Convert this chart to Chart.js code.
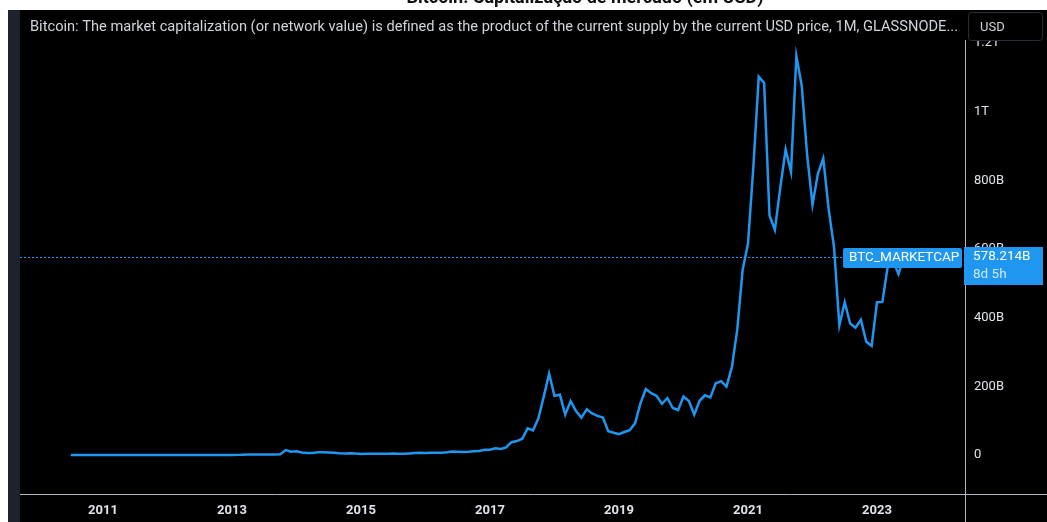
<!DOCTYPE html>
<html><head><meta charset="utf-8">
<script src="https://cdn.jsdelivr.net/npm/chart.js@4.4.0/dist/chart.umd.min.js"></script>
<style>html,body{margin:0;padding:0;background:#fff;overflow:hidden}
#wrap{position:relative;width:1047px;height:522px}
canvas{display:block}
</style></head><body>
<div id="wrap"><canvas id="c" width="1047" height="522"></canvas></div>
<script>
// ---- DATA ----
const startYear = 2010;
const startMonth = 7; // first monthly bar: July 2010
// Bitcoin market cap, monthly close, in billions USD (Jul 2010 .. Jun 2023)
const marketCapB = [
  0.0003,0.0003,0.0003,0.0008,0.0010,0.0015,
  0.0028,0.0047,0.0045,0.021,0.055,0.106,0.091,0.057,0.037,0.024,0.023,0.037,
  0.045,0.041,0.042,0.043,0.046,0.061,0.087,0.098,0.122,0.112,0.13,0.143,
  0.219,0.364,1.02,1.54,1.44,1.10,1.22,1.57,1.56,2.41,14.5,9.74,
  10.6,7.05,5.7,5.6,8.0,8.3,7.6,6.3,5.1,4.5,5.1,4.35,
  3.0,3.5,3.4,3.3,3.3,3.8,4.1,3.4,3.5,4.6,5.6,6.45,
  5.6,6.6,6.4,6.9,8.2,10.5,9.8,9.1,9.7,11.2,11.9,15.5,
  15.5,19.3,17.4,22.0,37.4,40.7,47.3,77.6,71.7,107,170,237,
  172,176,118,157,128,109,133,121,114,109,69.5,65,
  60.4,67,72,93,151,192,180,172,149,166,137,131,
  170,157,118,158,174,168,209,215,199,256,365,539,
  616,840,1102,1084,698,656,778,890,825,1162,1075,874,
  729,819,864,717,606,378,445,383,371,394,330,318,
  445,446,550,565,527,578.214
];
const yTickValues = [0,200,400,600,800,1000,1200];
const yTickLabels = ['0','200B','400B','600B','800B','1T','1.2T'];
const xTickYears = [2011,2013,2015,2017,2019,2021,2023];
const seriesName = 'BTC_MARKETCAP';
const lastValue = 578.214;
const lastValueLabel = '578.214B';
const countdownLabel = '8d 5h';
const headerText = 'Bitcoin: The market capitalization (or network value) is defined as the product of the current supply by the current USD price, 1M, GLASSNODE...';
const currencyText = 'USD';
const topTitle = 'Bitcoin: Capitalização de mercado (em USD)';

// ---- BUILD ----
// month index relative to Jan 2011
const points = marketCapB.map((v,i)=>{
  const k = (startYear-2011)*12 + (startMonth-1) + i;
  return {x:k, y:v};
});

const BLUE = '#1f96f0';
const AXIS = '#b2b5be';
const TXT = '#d1d4dc';

// target geometry
const X0_PX = 103, PX_PER_MONTH = 5.375;   // Jan 2011 at x=103
const Y0_PX = 455, PX_PER_B = 68.65/200;    // 0 at y=455

const decor = {
  id:'decor',
  beforeDraw(chart){
    const c = chart.ctx;
    c.save();
    c.fillStyle = '#ffffff'; c.fillRect(0,0,1047,522);
    c.fillStyle = '#1e222d'; c.fillRect(8,10,1039,512);
    c.fillStyle = '#000000'; c.fillRect(20,10,1027,512);
    c.restore();
  },
  afterDatasetsDraw(chart){
    const c = chart.ctx;
    const ys = chart.scales.y;
    const py = Math.round(ys.getPixelForValue(lastValue)) + 0.5;
    c.save();
    c.strokeStyle = '#2a9df4'; c.lineWidth = 1; c.setLineDash([2,2]);
    c.beginPath(); c.moveTo(20,py); c.lineTo(845,py); c.stroke();
    c.setLineDash([]);
    c.strokeStyle = AXIS; c.lineWidth = 1;
    c.beginPath(); c.moveTo(20,494.5); c.lineTo(1047,494.5); c.stroke();
    c.beginPath(); c.moveTo(965.5,10); c.lineTo(965.5,522); c.stroke();
    c.restore();
  },
  afterDraw(chart){
    const c = chart.ctx;
    const ys = chart.scales.y;
    const py = Math.round(ys.getPixelForValue(lastValue));
    c.save();
    // header bar (covers top of plot incl. 1.2T label)
    c.fillStyle = '#000000'; c.fillRect(20,10,1027,30);
    c.fillStyle = '#1e222d'; c.fillRect(8,10,12,30);
    c.font = '14px "Liberation Sans Narrow", "Roboto", sans-serif';
    c.fillStyle = TXT; c.textBaseline = 'middle'; c.textAlign = 'left';
    const w = c.measureText(headerText).width;
    const target = 928;
    c.save(); c.translate(30,27); c.scale(target/w,1); c.fillText(headerText,0,0); c.restore();
    // currency box
    c.fillStyle = '#000000';
    c.strokeStyle = '#2a2e39'; c.lineWidth = 1;
    c.beginPath(); c.roundRect(968.5,12.5,74,28,3); c.fill(); c.stroke();
    c.fillStyle = TXT; c.font = '13px "Roboto", sans-serif';
    c.fillText(currencyText,980,28);
    // series label
    c.fillStyle = BLUE;
    c.beginPath(); c.roundRect(843,py-9,119,20,2); c.fill();
    c.fillStyle = '#ffffff'; c.font = '13.5px "Roboto", sans-serif';
    c.fillText(seriesName,849,py+1);
    // price label
    c.fillStyle = BLUE;
    c.fillRect(964,py-10,79,38);
    c.fillStyle = '#ffffff';
    c.fillText(lastValueLabel,973,py);
    c.fillStyle = '#cfe8fc';
    c.fillText(countdownLabel,973,py+18);
    // clipped top title
    c.fillStyle = '#ffffff'; c.fillRect(0,0,1047,10);
    c.save(); c.beginPath(); c.rect(0,0,1047,9); c.clip();
    c.textAlign = 'center'; c.textBaseline='alphabetic';
    c.font = 'bold 18px "Roboto", sans-serif';
    c.fillStyle = '#111'; c.fillText(topTitle,585,3);
    c.restore();
    c.restore();
  }
};

const chart = new Chart(document.getElementById('c'),{
  type:'line',
  data:{datasets:[{label:seriesName,data:points,borderColor:BLUE,borderWidth:2.5,
    pointRadius:0,tension:0,fill:false}]},
  options:{
    responsive:false,animation:false,
    layout:{padding:{left:20,top:10,right:0,bottom:0}},
    plugins:{legend:{display:false},tooltip:{enabled:false}},
    scales:{
      x:{type:'linear',min:-15,max:160,
        grid:{display:false,drawTicks:false},border:{display:false},
        afterBuildTicks(s){s.ticks = xTickYears.map(y=>({value:(y-2011)*12}));},
        afterFit(s){s.height = 28;},
        ticks:{autoSkip:false,maxRotation:0,padding:9,color:'#e0e3eb',
          font:{family:'Roboto',size:13,weight:'bold'},
          callback(v){return String(2011+Math.round(v/12));}}
      },
      y:{type:'linear',position:'right',min:-110,max:1300,
        grid:{display:false,drawTicks:false},border:{display:false},
        afterBuildTicks(s){s.ticks = yTickValues.map(v=>({value:v}));},
        afterFit(s){s.width = 82;},
        ticks:{autoSkip:false,padding:9,color:'#e0e3eb',crossAlign:'near',
          font:{family:'Roboto',size:13},
          callback(v){const i=yTickValues.indexOf(v);return i>=0?yTickLabels[i]:'';}}
      }
    }
  },
  plugins:[decor]
});
// second pass: fit scale ranges to the actual chart area so pixels match the reference
const ca = chart.chartArea;
chart.options.scales.x.min = (ca.left - X0_PX)/PX_PER_MONTH;
chart.options.scales.x.max = (ca.right - X0_PX)/PX_PER_MONTH;
chart.options.scales.y.max = (Y0_PX - ca.top)/PX_PER_B;
chart.options.scales.y.min = (Y0_PX - ca.bottom)/PX_PER_B;
chart.update('none');
</script>
</body></html>
